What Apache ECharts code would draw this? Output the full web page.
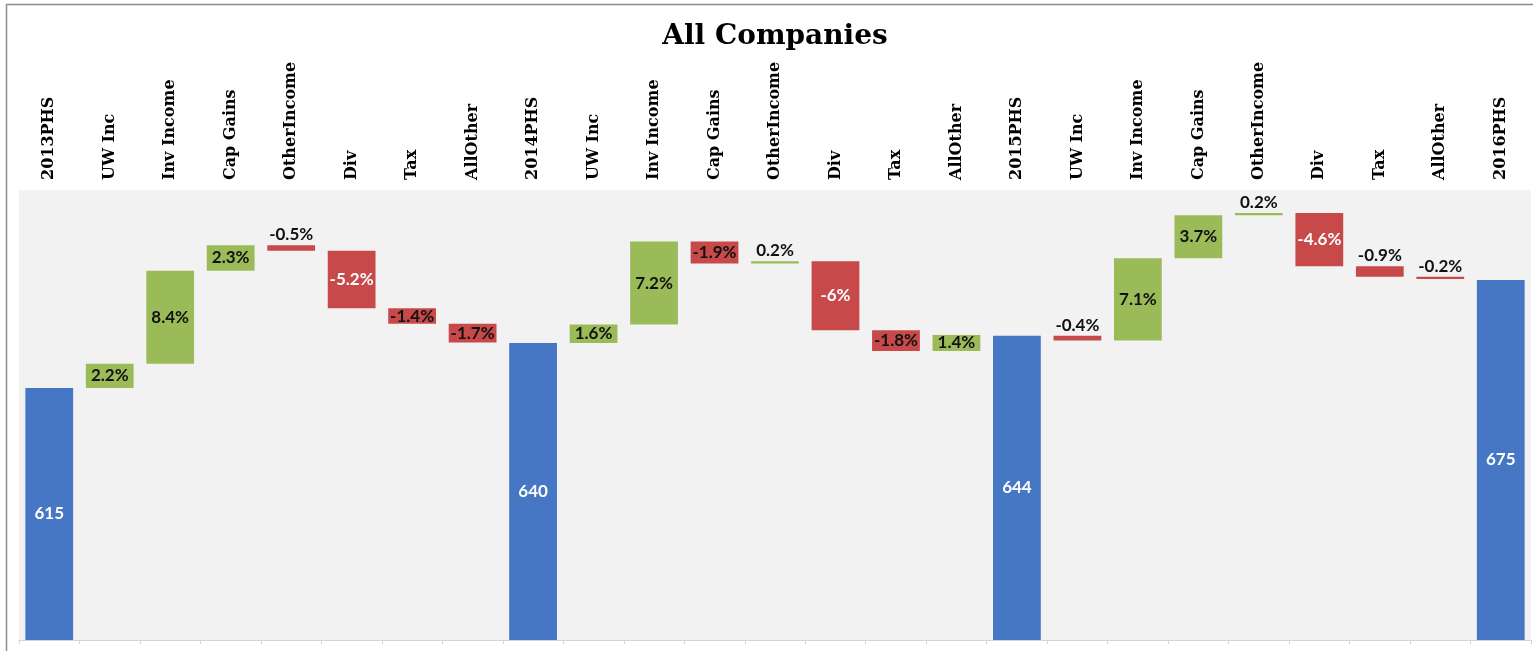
<!DOCTYPE html>
<html>
<head>
<meta charset="utf-8">
<title>All Companies</title>
<script src="https://cdn.jsdelivr.net/npm/echarts@6/dist/echarts.min.js"></script>
<style>
  html, body { margin: 0; padding: 0; background: #ffffff; }
  #chart { width: 1533px; height: 651px; }
</style>
</head>
<body>
<div id="chart"></div>
<script>
// Category order along the axis: year-end totals with the seven drivers between them
const categories = [
  '2013PHS', 'UW Inc', 'Inv Income', 'Cap Gains', 'OtherIncome', 'Div', 'Tax', 'AllOther',
  '2014PHS', 'UW Inc', 'Inv Income', 'Cap Gains', 'OtherIncome', 'Div', 'Tax', 'AllOther',
  '2015PHS', 'UW Inc', 'Inv Income', 'Cap Gains', 'OtherIncome', 'Div', 'Tax', 'AllOther',
  '2016PHS'
];

// Policyholder surplus at each year end
const phsTotals = [615, 640, 644, 675];

// Percentage change of each driver, relative to the prior year-end surplus
const pctChanges2014 = [2.2, 8.4, 2.3, -0.5, -5.2, -1.4, -1.7];
const pctChanges2015 = [1.6, 7.2, -1.9, 0.2, -6, -1.8, 1.4];
const pctChanges2016 = [-0.4, 7.1, 3.7, 0.2, -4.6, -0.9, -0.2];

const yearSteps = [pctChanges2014, pctChanges2015, pctChanges2016];

const COLOR_TOTAL = '#4677C4';
const COLOR_UP = '#9BBB59';
const COLOR_DOWN = '#C8494A';
const LABEL_FONT = 'Lato, "Open Sans", sans-serif';

// Build the floating waterfall: an invisible base plus the visible step
const baseData = [];
const stepData = [];

phsTotals.forEach(function (total, yi) {
  stepData.push({
    value: total,
    itemStyle: { color: COLOR_TOTAL },
    label: { show: true, position: 'inside', color: '#ffffff', formatter: String(total) }
  });
  baseData.push('-');
  if (yi >= yearSteps.length) return;
  let running = total;
  yearSteps[yi].forEach(function (pct) {
    const delta = total * pct / 100;
    const next = running + delta;
    const low = Math.min(running, next);
    const high = Math.max(running, next);
    const up = pct >= 0;
    const big = Math.abs(pct) >= 1;
    let labelColor = '#111111';
    if (!up && Math.abs(pct) >= 3) labelColor = '#ffffff';
    baseData.push(low);
    stepData.push({
      value: high - low,
      itemStyle: { color: up ? COLOR_UP : COLOR_DOWN },
      label: {
        show: true,
        position: big ? 'inside' : 'top',
        distance: 2,
        color: labelColor,
        formatter: pct + '%'
      }
    });
    running = next;
  });
});

const chart = echarts.init(document.getElementById('chart'), null, { renderer: 'canvas' });

chart.setOption({
  animation: false,
  backgroundColor: '#ffffff',
  title: {
    text: 'All Companies',
    left: 770,
    textAlign: 'center',
    top: 18,
    textStyle: {
      fontFamily: '"DejaVu Serif", serif',
      fontWeight: 'bold',
      fontSize: 28,
      color: '#000000'
    }
  },
  graphic: [{
    type: 'rect',
    silent: true,
    shape: { x: 6.5, y: 4.5, width: 1600, height: 700 },
    style: { fill: 'none', stroke: '#8c8c8c', lineWidth: 1.5 }
  }],
  grid: {
    left: 19,
    right: 2,
    top: 190,
    bottom: 11,
    show: true,
    backgroundColor: '#f2f2f2',
    borderWidth: 0
  },
  xAxis: [{
    type: 'category',
    position: 'top',
    data: categories,
    axisLine: { show: false },
    axisTick: { show: false },
    axisLabel: {
      interval: 0,
      rotate: -90,
      margin: 10,
      fontFamily: '"DejaVu Serif", serif',
      fontWeight: 'bold',
      fontSize: 16,
      color: '#000000'
    }
  }, {
    type: 'category',
    position: 'bottom',
    data: categories,
    axisLine: { show: true, lineStyle: { color: '#d4d4d4', width: 1 } },
    axisTick: { show: true, interval: 0, length: 4, lineStyle: { color: '#d4d4d4' } },
    axisLabel: { show: false }
  }],
  yAxis: {
    type: 'value',
    min: 475,
    max: 725,
    show: false,
    splitLine: { show: false }
  },
  series: [{
    name: 'base',
    type: 'bar',
    stack: 'waterfall',
    barCategoryGap: '21%',
    silent: true,
    itemStyle: { color: 'transparent' },
    data: baseData
  }, {
    name: 'step',
    type: 'bar',
    stack: 'waterfall',
    barCategoryGap: '21%',
    clip: true,
    label: {
      show: true,
      fontFamily: LABEL_FONT,
      fontWeight: 'bold',
      fontSize: 17
    },
    data: stepData
  }]
});
</script>
</body>
</html>
